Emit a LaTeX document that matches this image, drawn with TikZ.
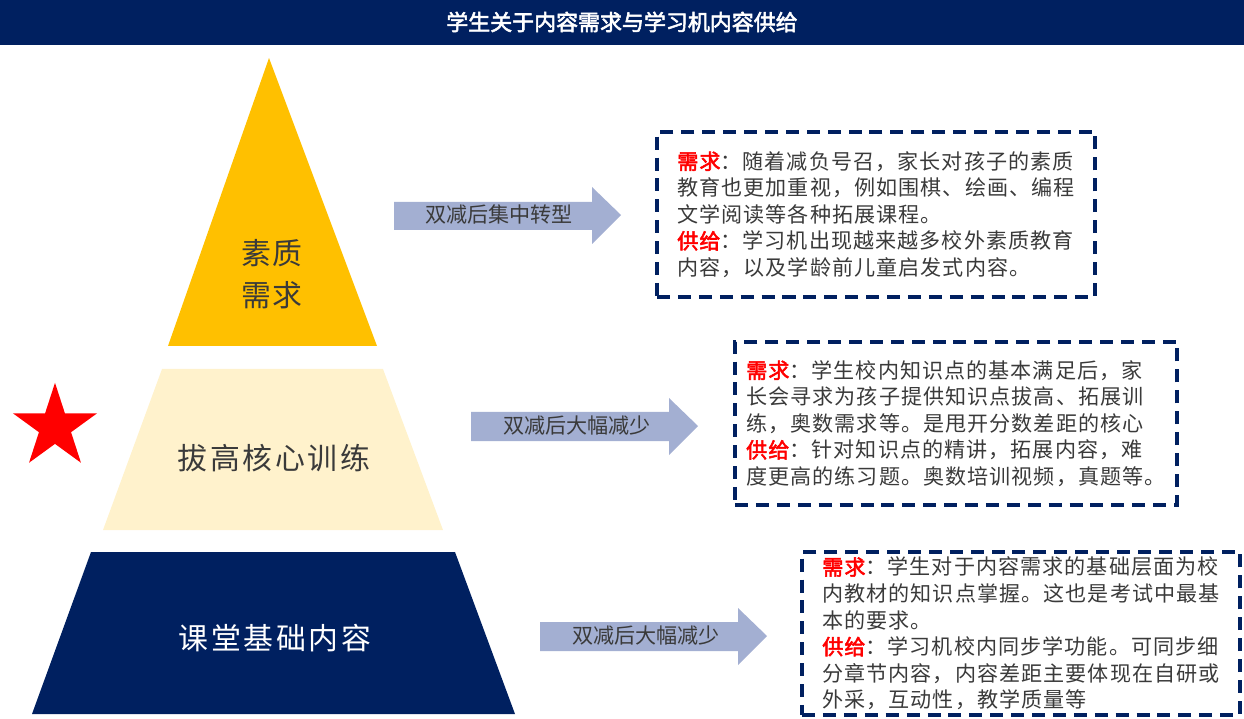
\documentclass[tikz,border=0pt]{standalone}
\usepackage{fontspec}
\setmainfont[AutoFakeBold=2.5]{Noto Sans CJK SC}
\usetikzlibrary{shapes.geometric}

\definecolor{navy}{HTML}{002060}
\definecolor{gold}{HTML}{FFC000}
\definecolor{cream}{HTML}{FFF2CC}
\definecolor{arrowblue}{HTML}{A3AFD2}
\definecolor{bodygray}{HTML}{3A3A3A}

\newcommand{\lbl}[1]{\textcolor{red}{\bfseries #1}}

\tikzset{
  infobox/.style={draw=navy, line width=2.3pt, dash pattern=on 7.4pt off 4.5pt,
    align=left, inner sep=0pt, text=bodygray,
    font=\fontsize{12}{15.1}\selectfont\addfontfeatures{LetterSpace=5}},
  arrowtext/.style={text=bodygray, font=\fontsize{12}{14}\selectfont},
  layertext/.style={font=\fontsize{17}{24}\selectfont\addfontfeatures{LetterSpace=9}},
}

\begin{document}
\begin{tikzpicture}[x=0.02cm, y=-0.02cm]
    \useasboundingbox (0,0) rectangle (1244,719);

    % Title bar
    \fill[navy] (0,0) rectangle (1244,45);
    \node[text=white, font=\fontsize{12.5}{14}\selectfont\bfseries] (title) at (622,22) {学生关于内容需求与学习机内容供给};

    % Pyramid
    \fill[gold] (269,58) -- (377,346) -- (168,346) -- cycle;
    \fill[cream] (162,369) -- (383,369) -- (443,530) -- (103,530) -- cycle;
    \fill[navy] (91,552) -- (455,552) -- (515,714) -- (32,714) -- cycle;

    \node[layertext, text=bodygray, align=center, font=\fontsize{17}{24}\selectfont\addfontfeatures{LetterSpace=4}] (suzhi) at (272,274) {素质\\需求};
    \node[layertext, text=bodygray] (bagao) at (274,458) {拔高核心训练};
    \node[layertext, text=white] (ketang) at (275,638) {课堂基础内容};

    % Star
    \node[star, star points=5, star point ratio=2.618, fill=red, inner sep=0pt, minimum size=1.768cm] (star) at (55,427) {};

    % Block arrows
    \fill[arrowblue] (394,202) -- (592,202) -- (592,187) -- (621,215) -- (592,244) -- (592,230) -- (394,230) -- cycle;
    \node[arrowtext] (shift) at (499,215) {双减后集中转型};

    \fill[arrowblue] (471,412) -- (669,412) -- (669,398) -- (698,426) -- (669,455) -- (669,441) -- (471,441) -- cycle;
    \node[arrowtext] (drop1) at (577,426) {双减后大幅减少};

    \fill[arrowblue] (540,622) -- (738,622) -- (738,608) -- (767,636) -- (738,665) -- (738,651) -- (540,651) -- cycle;
    \node[arrowtext] (drop2) at (646,636) {双减后大幅减少};

    % Boxes
    \node[infobox, minimum width=8.76cm, minimum height=3.3cm] (need1) at (876,214.5) {%
      \lbl{需求}：随着减负号召，家长对孩子的素质\\
      教育也更加重视，例如围棋、绘画、编程\\
      文学阅读等各种拓展课程。\\
      \lbl{供给}：学习机出现越来越多校外素质教育\\
      内容，以及学龄前儿童启发式内容。};

    \node[infobox, minimum width=8.84cm, minimum height=3.26cm] (need2) at (956,423.5) {%
      \lbl{需求}：学生校内知识点的基本满足后，家\\
      长会寻求为孩子提供知识点拔高、拓展训\\
      练，奥数需求等。是甩开分数差距的核心\\
      \lbl{供给}：针对知识点的精讲，拓展内容，难\\
      度更高的练习题。奥数培训视频，真题等。};

    \node[infobox, minimum width=8.76cm, minimum height=3.26cm] (need3) at (1021,633.5) {%
      \lbl{需求}：学生对于内容需求的基础层面为校\\
      内教材的知识点掌握。这也是考试中最基\\
      本的要求。\\
      \lbl{供给}：学习机校内同步学功能。可同步细\\
      分章节内容，内容差距主要体现在自研或\\
      外采，互动性，教学质量等};
\end{tikzpicture}
\end{document}
